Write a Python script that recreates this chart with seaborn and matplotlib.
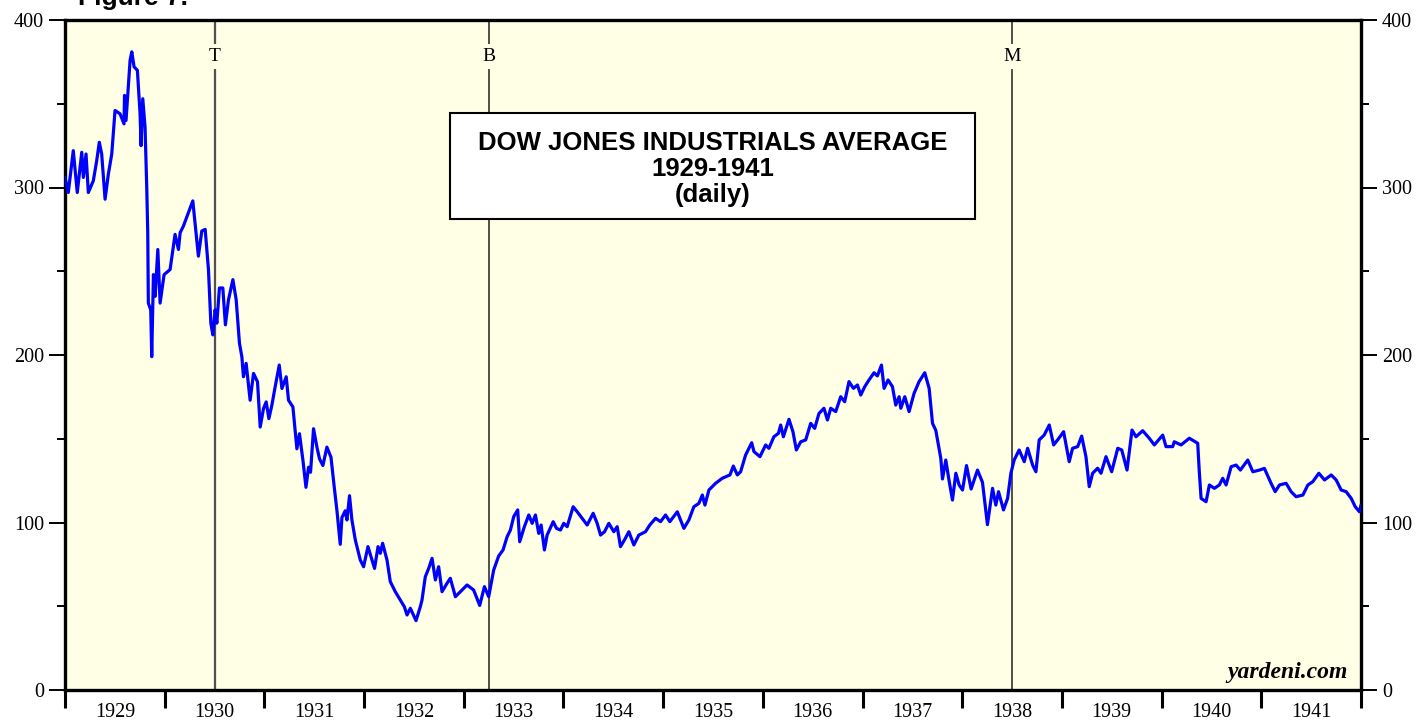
"""Dow Jones Industrials Average 1929-1941, daily (Yardeni Figure 7)."""

import matplotlib

matplotlib.use("Agg")
import matplotlib.pyplot as plt
import numpy as np
import pandas as pd
import seaborn as sns
from matplotlib.patches import Rectangle


# decimal year / index level
YEARS = [
    1929.000, 1929.033, 1929.083, 1929.123, 1929.168, 1929.184, 1929.211, 1929.234,
    1929.284, 1929.318, 1929.344, 1929.368, 1929.402, 1929.435, 1929.469, 1929.502,
    1929.552, 1929.592, 1929.597, 1929.612, 1929.653, 1929.670, 1929.693, 1929.726,
    1929.753, 1929.763, 1929.780, 1929.803, 1929.820, 1929.830, 1929.836, 1929.860,
    1929.870, 1929.887, 1929.904, 1929.931, 1929.954, 1929.994, 1930.054, 1930.104,
    1930.138, 1930.155, 1930.188, 1930.282, 1930.338, 1930.372, 1930.406, 1930.439,
    1930.463, 1930.483, 1930.506, 1930.523, 1930.549, 1930.583, 1930.609, 1930.640,
    1930.684, 1930.717, 1930.750, 1930.774, 1930.790, 1930.817, 1930.857, 1930.891,
    1930.931, 1930.958, 1930.991, 1931.018, 1931.045, 1931.075, 1931.108, 1931.149,
    1931.176, 1931.219, 1931.242, 1931.286, 1931.326, 1931.352, 1931.387, 1931.417,
    1931.443, 1931.463, 1931.493, 1931.527, 1931.553, 1931.587, 1931.627, 1931.668,
    1931.701, 1931.728, 1931.761, 1931.778, 1931.811, 1931.828, 1931.854, 1931.878,
    1931.912, 1931.962, 1931.995, 1932.039, 1932.079, 1932.105, 1932.140, 1932.163,
    1932.186, 1932.230, 1932.263, 1932.313, 1932.363, 1932.404, 1932.431, 1932.464,
    1932.521, 1932.564, 1932.581, 1932.614, 1932.648, 1932.682, 1932.715, 1932.748,
    1932.782, 1932.832, 1932.865, 1932.916, 1932.966, 1933.033, 1933.099, 1933.160,
    1933.207, 1933.250, 1933.300, 1933.350, 1933.394, 1933.435, 1933.468, 1933.501,
    1933.541, 1933.561, 1933.608, 1933.652, 1933.686, 1933.719, 1933.752, 1933.776,
    1933.809, 1933.836, 1933.897, 1933.930, 1933.970, 1934.003, 1934.037, 1934.097,
    1934.138, 1934.188, 1934.238, 1934.298, 1934.338, 1934.372, 1934.412, 1934.455,
    1934.505, 1934.539, 1934.572, 1934.612, 1934.656, 1934.706, 1934.756, 1934.823,
    1934.866, 1934.924, 1934.974, 1935.024, 1935.067, 1935.142, 1935.208, 1935.258,
    1935.308, 1935.358, 1935.393, 1935.419, 1935.459, 1935.526, 1935.593, 1935.670,
    1935.704, 1935.744, 1935.777, 1935.827, 1935.888, 1935.911, 1935.971, 1936.028,
    1936.061, 1936.111, 1936.156, 1936.179, 1936.206, 1936.262, 1936.302, 1936.336,
    1936.380, 1936.430, 1936.480, 1936.520, 1936.563, 1936.613, 1936.648, 1936.681,
    1936.731, 1936.781, 1936.821, 1936.864, 1936.909, 1936.949, 1936.982, 1937.022,
    1937.065, 1937.115, 1937.149, 1937.190, 1937.216, 1937.256, 1937.300, 1937.333,
    1937.367, 1937.384, 1937.424, 1937.467, 1937.517, 1937.567, 1937.624, 1937.668,
    1937.702, 1937.735, 1937.758, 1937.785, 1937.802, 1937.835, 1937.868, 1937.902,
    1937.936, 1937.969, 1938.003, 1938.043, 1938.089, 1938.153, 1938.203, 1938.253,
    1938.304, 1938.337, 1938.364, 1938.414, 1938.455, 1938.488, 1938.521, 1938.571,
    1938.622, 1938.656, 1938.706, 1938.739, 1938.772, 1938.822, 1938.873, 1938.917,
    1938.957, 1939.017, 1939.073, 1939.107, 1939.158, 1939.198, 1939.241, 1939.274,
    1939.308, 1939.358, 1939.392, 1939.442, 1939.499, 1939.560, 1939.600, 1939.653,
    1939.703, 1939.743, 1939.810, 1939.876, 1939.927, 1940.011, 1940.044, 1940.111,
    1940.127, 1940.195, 1940.278, 1940.362, 1940.378, 1940.396, 1940.446, 1940.479,
    1940.529, 1940.579, 1940.613, 1940.647, 1940.697, 1940.747, 1940.790, 1940.864,
    1940.915, 1940.981, 1941.031, 1941.098, 1941.139, 1941.182, 1941.249, 1941.299,
    1941.349, 1941.417, 1941.467, 1941.517, 1941.577, 1941.634, 1941.701, 1941.751,
    1941.801, 1941.851, 1941.902, 1941.942, 1941.985, 1942.000,
]
DJIA = [
    306, 297, 322, 297, 321, 306, 320, 297,
    304, 316, 327, 320, 293, 308, 320, 346,
    344, 338, 355, 340, 376, 381, 372, 370,
    344, 325, 353, 336, 300, 273, 231, 227,
    199, 248, 235, 263, 231, 248, 251, 272,
    263, 273, 277, 292, 259, 274, 275, 251,
    219, 212, 227, 219, 240, 240, 218, 233,
    245, 233, 207, 199, 187, 195, 173, 189,
    184, 157, 168, 172, 162, 170, 181, 194,
    180, 187, 173, 169, 144, 153, 137, 121,
    133, 130, 156, 145, 138, 134, 145, 139,
    121, 107, 87, 103, 107, 101.5, 116, 101.5,
    89.6, 77.6, 73.6, 85.6, 77.6, 72.6, 85.6, 81.6,
    87.6, 77.6, 64.7, 58.7, 53.7, 49.7, 44.8, 48.8,
    41.4, 49.7, 53.7, 67.6, 72.6, 78.6, 65.7, 73.6,
    58.7, 63.7, 66.7, 55.7, 58.7, 62.7, 59.7, 50.5,
    61.7, 55.7, 71.6, 80, 83.6, 91.5, 95.5, 103.5,
    107.5, 88.5, 97.5, 104.5, 99.5, 104.5, 93.5, 98.5,
    83.6, 92.5, 100.5, 96.5, 95.5, 99.5, 97.5, 109.4,
    106.4, 102.5, 98.5, 105.5, 99.5, 92.5, 94.5, 99.5,
    94.5, 97.5, 85.6, 89.6, 94.5, 86.6, 92.5, 94.5,
    98.5, 102.5, 100.5, 104.5, 100.5, 106.4, 96.5, 101.5,
    109.4, 111.4, 116.4, 110.4, 119.4, 123.4, 126.4, 128.4,
    133.7, 128.4, 130.3, 140.3, 147.6, 142.3, 139.3, 146.3,
    144.3, 151.2, 153.2, 158.2, 151.2, 161.6, 154.2, 143.3,
    148.2, 149.3, 159.2, 156.2, 165.1, 168.2, 161.2, 168.2,
    166.2, 175.1, 172.1, 184.1, 180.1, 182.1, 176.1, 181.1,
    185.1, 189.4, 187.5, 194, 180.1, 185.1, 181.1, 170.1,
    175.1, 168.2, 175.1, 166.2, 177.1, 184.1, 189.4, 180.1,
    159.2, 155, 147.3, 138.3, 126, 137.3, 125, 113.4,
    129.4, 122.4, 119.4, 134, 120, 131.3, 124, 98.7,
    120.4, 110.4, 118.4, 107.5, 114.4, 129.4, 137.3, 143.3,
    136.3, 144.3, 134.3, 130.3, 149.3, 152.2, 158.2, 146.3,
    149.3, 154.2, 136.3, 144.3, 145.3, 151.6, 139.3, 121.4,
    129.4, 132.4, 129.4, 139.3, 130.3, 144.3, 143.3, 131.3,
    155.2, 151.2, 154.8, 150.3, 146.3, 152.2, 145.3, 145.3,
    148.2, 146.3, 150.3, 147.3, 130.3, 114.4, 112.4, 122.4,
    120.4, 122.4, 126.4, 122.4, 133.3, 134.3, 131.3, 137.3,
    130.3, 131.3, 132.3, 123.4, 118.4, 122.4, 123.4, 118.4,
    115.4, 116.4, 122.4, 124.4, 129.4, 125.4, 128.4, 125.4,
    119.4, 118.4, 114.4, 109.4, 106.4, 110.4,
]

EVENT_LABELS = ["T", "B", "M"]
EVENT_YEARS = [1930.5, 1933.25, 1938.5]
YEAR_LABELS = list(range(1929, 1942))
Y_TICKS = [0, 100, 200, 300, 400]

TITLE_LINES = ["DOW JONES INDUSTRIALS AVERAGE", "1929-1941", "(daily)"]
BG_COLOR = "#FFFFE6"


def main():
    sns.set_style("ticks")
    plt.rcParams["font.family"] = ["Liberation Serif", "DejaVu Serif"]
    plt.rcParams["text.color"] = "black"
    plt.rcParams["xtick.color"] = "black"
    plt.rcParams["ytick.color"] = "black"

    df = pd.DataFrame({"year": YEARS, "djia": DJIA})

    fig = plt.figure(figsize=(14.2, 7.21), dpi=100)
    ax = fig.add_axes([65 / 1420, 1 - 690 / 721, 1296 / 1420, 670 / 721])
    ax.set_facecolor(BG_COLOR)

    # event markers with their letters at the top
    for label, yr, color, lw in zip(EVENT_LABELS, EVENT_YEARS,
                                    ["#505050", "#202020", "#202020"], [1.6, 1.1, 1.1]):
        ax.axvline(yr, color=color, lw=lw, zorder=1)
        ax.text(yr, 378, label, ha="center", va="center", fontsize=14,
                bbox=dict(facecolor=BG_COLOR, edgecolor="none", pad=3), zorder=2)

    sns.lineplot(data=df, x="year", y="djia", color="#0000FF", lw=2.3,
                 estimator=None, sort=False, ax=ax, zorder=3)

    ax.set_xlim(1929, 1942)
    ax.set_ylim(0, 400)
    ax.set_xlabel("")
    ax.set_ylabel("")

    # x axis: year boundaries as ticks, year names in between
    ax.set_xticks(np.arange(1929, 1943))
    ax.set_xticklabels([])
    ax.set_xticks([y + 0.5 for y in YEAR_LABELS], minor=True)
    ax.set_xticklabels([str(y) for y in YEAR_LABELS], minor=True, fontsize=14.5)
    ax.tick_params(axis="x", which="major", length=13, width=2.2, direction="out")
    ax.tick_params(axis="x", which="minor", length=0, pad=9.5)

    ax.set_yticks(Y_TICKS)
    ax.set_yticklabels([str(v) for v in Y_TICKS], fontsize=14.5)
    ax.set_yticks(np.arange(50, 400, 100), minor=True)
    ax.tick_params(axis="y", which="both", left=True, right=True,
                   labelleft=True, labelright=True, width=1.4)
    ax.tick_params(axis="y", which="major", length=11.5, pad=3.5)
    ax.tick_params(axis="y", which="minor", length=5.8)

    for spine in ax.spines.values():
        spine.set_visible(True)
        spine.set_color("black")
        spine.set_linewidth(2.4)

    # title box
    ax.add_patch(Rectangle((0.297, 0.703), 0.405, 0.158, transform=ax.transAxes,
                           facecolor="white", edgecolor="black", lw=1.5, zorder=5))
    for line, y in zip(TITLE_LINES, [0.817, 0.778, 0.739]):
        ax.text(0.5, y, line, transform=ax.transAxes, ha="center", va="center",
                fontsize=18.5, fontweight="bold", family=["Liberation Sans", "DejaVu Sans"],
                zorder=6)

    ax.text(0.990, 0.010, "yardeni.com", transform=ax.transAxes, ha="right",
            va="bottom", fontsize=17, fontweight="bold", style="italic", zorder=6)

    fig.text(78 / 1420, 1 - 5 / 721, "Figure 7.", ha="left", va="baseline",
             fontsize=19, fontweight="bold", family=["Liberation Sans", "DejaVu Sans"])

    fig.savefig("out.png", dpi=100, facecolor="white")
    plt.close(fig)


if __name__ == "__main__":
    main()
